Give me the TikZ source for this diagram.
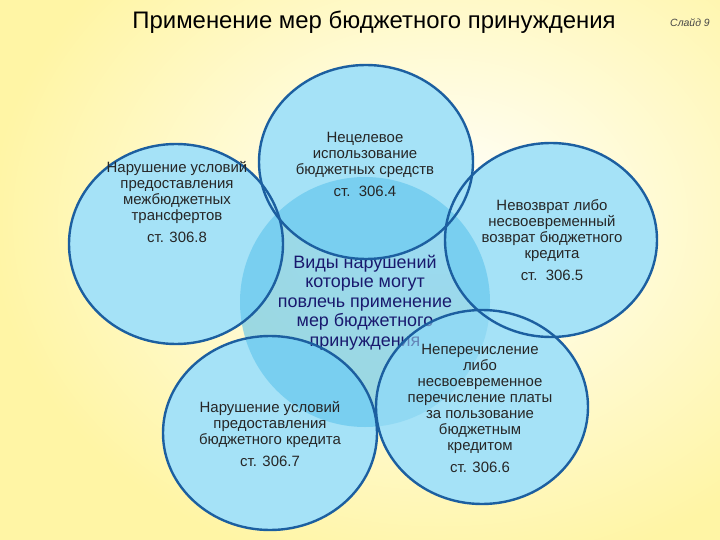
\documentclass[tikz,border=0pt]{standalone}
\usepackage{fontspec}
\setmainfont{Liberation Sans}
\definecolor{bgyellow}{RGB}{255,245,165}
\definecolor{ringfill}{RGB}{165,226,247}
\definecolor{corefill}{RGB}{95,196,236}
\definecolor{ringline}{RGB}{28,95,160}
\definecolor{corenavy}{RGB}{25,25,110}
\definecolor{slidegray}{RGB}{70,70,70}
\begin{document}
\begin{tikzpicture}[x=1bp,y=-1bp,
    ring/.style={line width=2.4bp,draw=ringline},
    ringtext/.style={align=center,inner sep=0pt,anchor=north,text=black!85,
    font=\fontsize{15}{16}\selectfont},
    coretext/.style={align=center,inner sep=0pt,anchor=north,text=corenavy,
    font=\fontsize{18}{19.5}\selectfont}]
    \useasboundingbox (0,0) rectangle (720,540);
    \fill[bgyellow] (0,0) rectangle (720,540);
    \shade[inner color=white,outer color=bgyellow] (440,220) ellipse
    [x radius=450bp,y radius=360bp];
    \fill[ringfill] (366,162) ellipse [x radius=107bp,y radius=97bp];
    \fill[ringfill] (176,244) ellipse [x radius=107bp,y radius=100bp];
    \fill[ringfill] (551,240) ellipse [x radius=106bp,y radius=97bp];
    \fill[ringfill] (270,433) ellipse [x radius=107bp,y radius=97bp];
    \fill[ringfill] (482,407) ellipse [x radius=106bp,y radius=97bp];
    \fill[corefill,opacity=0.62] (365,302) circle [radius=125bp];
    \node[coretext] (core) at (365,255) {Виды нарушений\\которые могут\\повлечь
    применение\\мер бюджетного\\принуждения};
    \fill[ringfill,opacity=0.55] (482,407) ellipse [x radius=106bp,y radius=97bp];
    \draw[ring] (366,162) ellipse [x radius=107bp,y radius=97bp];
    \draw[ring] (176,244) ellipse [x radius=107bp,y radius=100bp];
    \draw[ring] (551,240) ellipse [x radius=106bp,y radius=97bp];
    \draw[ring] (270,433) ellipse [x radius=107bp,y radius=97bp];
    \draw[ring] (482,407) ellipse [x radius=106bp,y radius=97bp];
    \node[ringtext] (misuse) at (365,132.5) {Нецелевое\\использование\\бюджетных
    средств\\[6bp]ст.\ \ 306.4};
    \node[ringtext] (transfers) at (177,161) {Нарушение условий\\предоставления\\
    межбюджетных\\трансфертов\\[6bp]ст. 306.8};
    \node[ringtext] (nonreturn) at (552,199.5) {Невозврат либо\\несвоевременный\\
    возврат бюджетного\\кредита\\[6bp]ст.\ \ 306.5};
    \node[ringtext] (credit) at (270,401) {Нарушение условий\\предоставления\\
    бюджетного кредита\\[6bp]ст. 306.7};
    \node[ringtext] (payment) at (480,344.5) {Неперечисление\\либо\\
    несвоевременное\\перечисление платы\\за пользование\\бюджетным\\кредитом\\[6bp]ст.
    306.6};
    \node[font=\fontsize{24}{27}\selectfont] (title) at (374,22) {Применение мер
    бюджетного принуждения};
    \node[font=\fontsize{10.5}{12}\itshape\selectfont,text=slidegray] (slide) at
    (690,23) {Слайд 9};
  \end{tikzpicture}
\end{document}
